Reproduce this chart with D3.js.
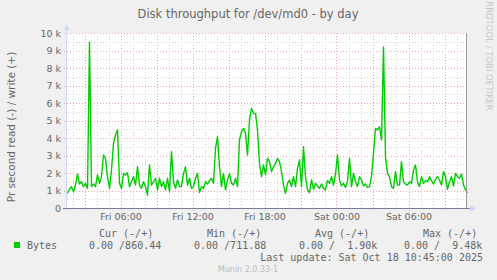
<!DOCTYPE html>
<html><head><meta charset="utf-8">
<script src="https://cdn.jsdelivr.net/npm/d3@7"></script>
<style>
html,body{margin:0;padding:0;background:#F0F0F0;}
svg{display:block;}
</style></head>
<body>
<svg id="chart" width="497" height="280"></svg>
<script>
// ---- data ----
const title = "Disk throughput for /dev/md0 - by day";
const yAxisLabel = "Pr second read (-) / write (+)";
const seriesName = "Bytes";
const firstSample = "2025-10-17T01:35:00";   // samples every 10 minutes
const stepMinutes = 10;
// write bytes per second, in thousands (k)
const writeK = [
 0.84,1.07,1.22,0.93,1.31,1.94,1.37,1.50,1.22,1.41,1.12,9.48,1.22,1.37,1.22,1.89,1.41,1.79,3.03,2.84,
 1.79,1.12,2.17,3.70,4.17,4.46,1.41,1.12,1.98,1.89,2.02,1.22,1.50,1.79,1.31,2.36,1.31,1.12,1.50,1.22,
 0.74,2.46,1.31,1.50,1.70,1.03,1.70,1.22,1.50,1.03,1.70,
 0.93,3.22,1.50,1.12,1.60,1.22,1.22,1.98,2.36,1.31,1.70,1.12,1.22,1.70,1.98,0.88,1.22,1.12,1.50,1.37,
 1.56,1.70,1.41,3.41,4.08,2.36,1.22,1.98,1.03,1.60,1.98,1.41,1.31,1.70,1.22,3.89,4.36,4.55,4.27,3.03,
 5.03,5.70,5.41,5.41,4.46,2.55,1.79,2.46,1.89,2.84,
 2.65,2.08,2.36,2.55,2.84,2.65,2.08,1.31,0.84,1.41,1.60,1.22,1.79,1.22,2.27,2.74,1.22,3.50,1.79,1.03,
 0.88,1.60,1.07,1.41,1.26,1.12,1.37,1.12,1.03,1.56,1.41,1.79,1.31,1.94,3.03,1.60,1.26,1.41,1.18,1.50,
 2.84,1.22,1.98,1.50,1.22,1.79,1.60,1.26,1.37,1.18,
 1.22,1.79,3.12,4.55,4.46,4.65,3.89,9.20,2.93,1.98,1.79,1.22,1.12,2.08,1.31,1.31,2.65,1.50,1.37,1.31,
 1.50,1.41,2.17,2.46,1.50,1.22,1.79,1.41,1.56,1.50,1.79,1.56,1.37,1.64,1.79,1.60,1.31,2.08,1.79,1.07,
 1.50,1.79,1.26,1.98,1.79,1.70,1.94,1.31,1.03,0.86
];
const yTicks = [0,1,2,3,4,5,6,7,8,9,10];
const yTickLabels = ["0","1 k","2 k","3 k","4 k","5 k","6 k","7 k","8 k","9 k","10 k"];
const xTickTimes = ["2025-10-17T06:00:00","2025-10-17T12:00:00","2025-10-17T18:00:00","2025-10-18T00:00:00","2025-10-18T06:00:00"];
const xTickLabels = ["Fri 06:00","Fri 12:00","Fri 18:00","Sat 00:00","Sat 06:00"];
const domainStart = "2025-10-17T01:32:30";
const domainEnd = "2025-10-18T10:52:30";
const legendHeaders = ["Cur (-/+)","Min (-/+)","Avg (-/+)","Max (-/+)"];
const legendValues = ["0.00 /860.44","0.00 /711.88","0.00 /  1.90k","0.00 /  9.48k"];
const lastUpdate = "Last update: Sat Oct 18 10:45:00 2025";
const version = "Munin 2.0.33-1";
const sideText = "RRDTOOL / TOBI OETIKER";

// ---- drawing ----
const svg = d3.select("#chart");
const L = 67, R = 467, T = 33, B = 208;
const parse = d3.timeParse("%Y-%m-%dT%H:%M:%S");
const x = d3.scaleTime().domain([parse(domainStart), parse(domainEnd)]).range([L, R]);
const y = d3.scaleLinear().domain([0, 10]).range([B, T]);
const t0 = parse(firstSample);
const data = writeK.map((v,i)=>({t: d3.timeMinute.offset(t0, i*stepMinutes), v}));

const font = "DejaVu Sans, sans-serif";
const mono = "DejaVu Sans Mono, monospace";
const fontColor = "#666666";

svg.append("rect").attr("x",0).attr("y",0).attr("width",497).attr("height",280).attr("fill","#F0F0F0");
svg.append("rect").attr("x",L).attr("y",T).attr("width",R-L).attr("height",B-T).attr("fill","#FFFFFF");

// minor grid
const g = svg.append("g");
d3.range(0.5, 10, 1).forEach(v=>{
  g.append("line").attr("x1",L).attr("x2",R).attr("y1",Math.round(y(v))+0.5).attr("y2",Math.round(y(v))+0.5)
   .attr("stroke","#D4D4D4").attr("stroke-dasharray","1,2");
});
const hours = x.ticks(d3.timeHour.every(1));
hours.forEach(h=>{
  if (h.getHours()%3===0) return;
  const px = Math.round(x(h))+0.5;
  g.append("line").attr("x1",px).attr("x2",px).attr("y1",T).attr("y2",B)
   .attr("stroke","#D4D4D4").attr("stroke-dasharray","1,2");
});
// major grid
yTicks.forEach(v=>{
  if (v===0) return;
  g.append("line").attr("x1",L-3).attr("x2",R).attr("y1",Math.round(y(v))+0.5).attr("y2",Math.round(y(v))+0.5)
   .attr("stroke","#F0A8A8").attr("stroke-dasharray","1,2");
});
hours.forEach(h=>{
  if (h.getHours()%3!==0) return;
  const px = Math.round(x(h))+0.5;
  g.append("line").attr("x1",px).attr("x2",px).attr("y1",T).attr("y2",B+3)
   .attr("stroke","#F0A8A8").attr("stroke-dasharray","1,2");
});

// series line
const line = d3.line().x(d=>x(d.t)).y(d=>y(d.v));
svg.append("path").datum(data).attr("d",line).attr("fill","none")
  .attr("stroke","#00CC00").attr("stroke-width",1.4).attr("stroke-linejoin","round");

// axes
svg.append("line").attr("x1",L-0.5).attr("x2",L-0.5).attr("y1",B+3).attr("y2",T-4).attr("stroke","#CFD6F8");
svg.append("path").attr("d",`M${L-3.5},${T-3} L${L-0.5},${T-9} L${L+2.5},${T-3} Z`).attr("fill","#CFD6F8");
svg.append("line").attr("x1",R-0.5).attr("x2",R-0.5).attr("y1",T).attr("y2",B).attr("stroke","#9A9A9A");
svg.append("line").attr("x1",L-4).attr("x2",R+3).attr("y1",B+0.5).attr("y2",B+0.5).attr("stroke","#7A7A96");
svg.append("path").attr("d",`M${R+3},${B-2.5} L${R+9},${B+0.5} L${R+3},${B+3.5} Z`).attr("fill","#CFD6F8");

// y tick labels
const yAxis = d3.axisLeft(y).tickValues(yTicks).tickFormat((d,i)=>yTickLabels[i]).tickSize(0).tickPadding(6);
const ya = svg.append("g").attr("transform",`translate(${L},0)`).call(yAxis);
ya.select(".domain").remove();
ya.selectAll("text").attr("font-family",font).attr("font-size","9.5px").attr("fill",fontColor);

// x tick labels
const xAxis = d3.axisBottom(x).tickValues(xTickTimes.map(parse)).tickFormat((d,i)=>xTickLabels[i]).tickSize(0).tickPadding(5);
const xa = svg.append("g").attr("transform",`translate(0,${B})`).call(xAxis);
xa.select(".domain").remove();
xa.selectAll("text").attr("font-family",font).attr("font-size","9.5px").attr("fill",fontColor);

// title
svg.append("text").attr("x",248).attr("y",18).attr("text-anchor","middle")
  .attr("font-family",font).attr("font-size","11.5px").attr("fill",fontColor).text(title);
// y label
svg.append("text").attr("transform","translate(15,127) rotate(-90)").attr("text-anchor","middle")
  .attr("font-family",font).attr("font-size","10.5px").attr("fill",fontColor).text(yAxisLabel);
// side text
svg.append("text").attr("transform","translate(486,56) rotate(90)").attr("text-anchor","middle")
  .attr("font-family",font).attr("font-size","8.5px").attr("fill","#C8C8C8").text(sideText);

// legend
const headerX = [99,207,315,423];
const valueX = [89,194,299,404];
legendHeaders.forEach((h,i)=>{
  svg.append("text").attr("x",headerX[i]).attr("y",237).attr("font-family",mono).attr("font-size","10px")
    .attr("fill",fontColor).style("white-space","pre").text(h);
});
svg.append("rect").attr("x",14).attr("y",242).attr("width",6).attr("height",6).attr("fill","#00CC00");
svg.append("text").attr("x",27).attr("y",249).attr("font-family",mono).attr("font-size","10px")
  .attr("fill",fontColor).text(seriesName);
legendValues.forEach((v,i)=>{
  svg.append("text").attr("x",valueX[i]).attr("y",249).attr("font-family",mono).attr("font-size","10px")
    .attr("fill",fontColor).style("white-space","pre").text(v);
});
svg.append("text").attr("x",483).attr("y",261).attr("text-anchor","end").attr("font-family",mono).attr("font-size","10px")
  .attr("fill",fontColor).style("white-space","pre").text(lastUpdate);
svg.append("text").attr("x",248).attr("y",272).attr("text-anchor","middle").attr("font-family",font).attr("font-size","8px")
  .attr("fill","#BBBBBB").text(version);
</script>
</body></html>
